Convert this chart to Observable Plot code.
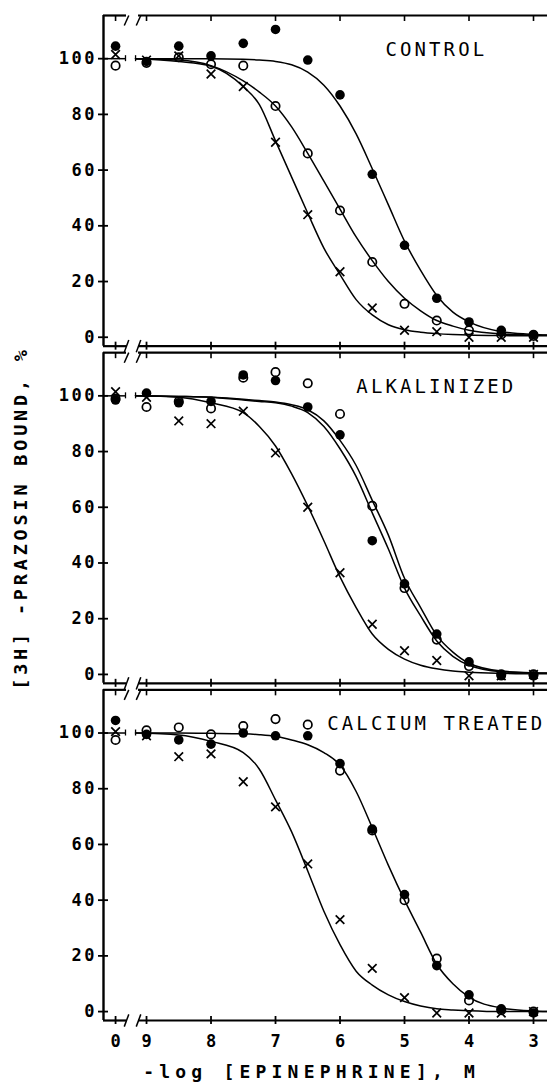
<!DOCTYPE html>
<html>
<head>
<meta charset="utf-8">
<script src="https://cdn.jsdelivr.net/npm/d3@7"></script>
<script src="https://cdn.jsdelivr.net/npm/@observablehq/plot@0.6"></script>
<style>
  html, body { margin: 0; padding: 0; background: #fff; overflow: hidden; }
  #chart svg { display: block; }
  g[font-size="17"] text { letter-spacing: 2.5px; }
  g[font-size="19"] text { letter-spacing: 3.1px; }
  g[font-size="18"] text { letter-spacing: 5.2px; }
  g[font-size="18.5"] text { letter-spacing: 3.8px; }
</style>
</head>
<body>
<div id="chart"></div>
<script>
// ---------- data ----------
const panels = ["CONTROL", "ALKALINIZED", "CALCIUM TREATED"];

// -log[epinephrine]; first entry (9.48) is the "0" (no epinephrine) point left of the axis break
const doseX = [9.48, 9, 8.5, 8, 7.5, 7, 6.5, 6, 5.5, 5, 4.5, 4, 3.5, 3];

const controlFilled = [104.5, 99, 104.5, 101, 105.5, 110.5, 99.5, 87, 58.5, 33, 14, 5.5, 2.5, 1];
const controlOpen   = [97.5, 98.5, 100.5, 98, 97.5, 83, 66, 45.5, 27, 12, 6, 2.5, 1, 0.5];
const controlCross  = [101.5, 99.5, 101, 94.5, 90, 70, 44, 23.5, 10.5, 2.5, 2, 0, 0, 0];

const alkFilled = [98.5, 101, 97.5, 98, 107.5, 105.5, 96, 86, 48, 32.5, 14.5, 4.5, -0.5, -0.5];
const alkOpen   = [99, 96, 98, 95.5, 106.5, 108.5, 104.5, 93.5, 60.5, 31, 12.5, 3, 0, 0];
const alkCross  = [101.5, 99.5, 91, 90, 94.5, 79.5, 60, 36.5, 18, 8.5, 5, -0.5, -0.5, 0];

const calFilled = [104.5, 99.5, 97.5, 96, 100, 99, 99, 89, 65.5, 42, 16.5, 6, 1, -0.5];
const calOpen   = [97.5, 101, 102, 99.5, 102.5, 105, 103, 86.5, 65, 40, 19, 4, 0.5, 0];
const calCross  = [100.5, 99, 91.5, 92.5, 82.5, 73.5, 53, 33, 15.5, 5, -0.5, -0.5, -0.5, 0];

// fitted curves at these x positions
const curveX = [9.17, 8.5, 8, 7.5, 7.25, 7, 6.75, 6.5, 6.25, 6, 5.75, 5.5, 5.25, 5, 4.75, 4.5, 4.25, 4, 3.5, 3, 2.78];
const fitControlFilled = [100, 100, 100, 99.8, 99.5, 99, 97.8, 95.2, 90.5, 83, 73, 60.5, 47.5, 34.5, 24, 15, 9, 5.5, 2, 1, 0.8];
const fitControlOpen   = [100, 99.5, 97.5, 92, 88, 83, 75.5, 66, 56, 46, 36, 27.5, 20, 14, 9.5, 6, 4, 2.5, 1.2, 0.8, 0.7];
const fitControlCross  = [100, 99, 97.3, 90, 83.5, 70.5, 57.5, 44.5, 32, 22.5, 13.5, 8, 4.5, 2.7, 1.8, 1.3, 1, 0.8, 0.6, 0.5, 0.5];
const fitAlkFilled = [100, 99.8, 99.5, 98.5, 98, 97.5, 96.3, 94, 89, 81, 71, 58, 45, 31, 21, 12, 6.5, 3.3, 1, 0.5, 0.4];
const fitAlkOpen   = [100, 99.8, 99.5, 98.8, 98.3, 97.8, 96.8, 95, 91, 84, 75, 62.5, 50, 34.5, 24, 14, 8, 4, 1.2, 0.6, 0.5];
const fitAlkCross  = [100, 99.5, 97.5, 94, 89, 82, 72, 60.5, 48, 35, 24, 14.5, 9, 5.5, 3.3, 2, 1.2, 0.8, 0.4, 0.2, 0.2];
const fitCalcium      = [100, 100, 99.9, 99.7, 99.4, 98.8, 97.5, 95.8, 93, 88.5, 79, 66, 52.5, 40, 28.5, 17, 10, 5.2, 1.3, 0.2, 0];
const fitCalciumCross = [100, 99.3, 97, 93, 87, 76, 64.5, 50.5, 36, 24, 14.5, 9.5, 6, 3.6, 2, 1, 0.6, 0.3, 0, 0, 0];

const xTickValues = [9.48, 9, 8, 7, 6, 5, 4, 3];
const xTickLabels = ["0", "9", "8", "7", "6", "5", "4", "3"];
const yTickValues = [0, 20, 40, 60, 80, 100];
const xTitle = "-log [EPINEPHRINE], M";
const yTitle = "[3H] -PRAZOSIN BOUND, %";

// ---------- scale configuration ----------
const xDomain = [9.667, 2.783];
const yDomain = [-3.2, 115.5];
const breakLeft = 9.31, breakRight = 9.124;   // axis break between "0" and 9
const stubEnd = 9.326, curveStart = 9.17;      // break in the 100% line

// ---------- tables ----------
const dotSeries = [
  [panels[0], "filled", controlFilled], [panels[0], "open", controlOpen], [panels[0], "cross", controlCross],
  [panels[1], "filled", alkFilled], [panels[1], "open", alkOpen], [panels[1], "cross", alkCross],
  [panels[2], "filled", calFilled], [panels[2], "open", calOpen], [panels[2], "cross", calCross]
];
const dots = dotSeries.flatMap(([panel, kind, vals]) => vals.map((v, i) => ({panel, kind, x: doseX[i], y: v})));

const fitSeries = [
  [panels[0], "cf", fitControlFilled], [panels[0], "co", fitControlOpen], [panels[0], "cx", fitControlCross],
  [panels[1], "af", fitAlkFilled], [panels[1], "ao", fitAlkOpen], [panels[1], "ax", fitAlkCross],
  [panels[2], "kf", fitCalcium], [panels[2], "kx", fitCalciumCross]
];
const fits = fitSeries.flatMap(([panel, id, vals]) => vals.map((v, i) => ({panel, id, x: curveX[i], y: v})));

const axisSegments = [[xDomain[0], breakLeft], [breakRight, xDomain[1]]];
const breaks = [breakLeft, breakRight];
const yMin = yDomain[0], yMax = yDomain[1];
const mono = "'DejaVu Sans Mono', 'Liberation Mono', monospace";

const chart = Plot.plot({
  width: 547,
  height: 1083,
  marginLeft: 103,
  marginRight: 0,
  marginTop: 15,
  marginBottom: 63,
  x: {domain: xDomain, axis: null},
  y: {domain: yDomain, axis: null},
  fy: {domain: panels, axis: null, paddingInner: 0.0193, paddingOuter: 0, round: false},
  style: {fontFamily: mono, background: "white", color: "black"},
  marks: [
    // frame: bottom axis and top line, both broken between "0" and 9
    Plot.ruleY(axisSegments, {x1: d => d[0], x2: d => d[1], y: () => yMin, strokeWidth: 2.2}),
    Plot.ruleY(axisSegments, {x1: d => d[0], x2: d => d[1], y: () => yMax, strokeWidth: 2.2}),
    Plot.link(breaks, {x1: d => d + 0.035, x2: d => d - 0.035, y1: () => yMin - 2.2, y2: () => yMin + 2.2, strokeWidth: 1.5}),
    Plot.link(breaks, {x1: d => d + 0.035, x2: d => d - 0.035, y1: () => yMax - 3.6, y2: () => yMax, strokeWidth: 1.5}),
    Plot.ruleX([xDomain[0]], {x: d => d, y1: () => yMin, y2: () => yMax, strokeWidth: 2.4}),
    // ticks
    Plot.ruleY(yTickValues, {y: d => d, x1: () => xDomain[0], x2: () => xDomain[0], insetLeft: -5, insetRight: -5, strokeWidth: 1.8}),
    Plot.ruleX(xTickValues, {x: d => d, y1: () => yMin, y2: () => yMin, insetTop: -4, insetBottom: -4, strokeWidth: 1.8}),
    Plot.ruleX(xTickValues, {x: d => d, y1: () => yMax, y2: () => yMax, insetTop: 0, insetBottom: -6, strokeWidth: 1.6}),
    // tick labels
    Plot.text(yTickValues, {x: () => xDomain[0], y: d => d, text: d => String(d), textAnchor: "end", dx: -6.5,
      fontSize: 17, fontWeight: "bold"}),
    Plot.text(xTickValues, {fy: () => panels[2], x: d => d, y: () => yMin, dy: 21, text: (d, i) => xTickLabels[i],
      fontSize: 17, fontWeight: "bold", dx: 1.3}),
    // titles
    Plot.text([xTitle], {fy: () => panels[2], x: () => 6.48, y: () => yMin, dy: 52, text: d => d,
      fontSize: 18, fontWeight: "bold", dx: 2.6}),
    Plot.text([yTitle], {fy: () => panels[1], frameAnchor: "left", textAnchor: "middle", dx: -82, rotate: -90, text: d => d,
      fontSize: 18.5, fontWeight: "bold"}),
    Plot.text(panels, {fy: d => d, x: () => 4.53, y: () => 103.2, text: d => d, fontSize: 19, dx: 1.5}),
    // 100% line break at the left
    Plot.ruleY([100], {y: d => d, x1: () => xDomain[0], x2: () => stubEnd, strokeWidth: 1.5}),
    Plot.ruleX([stubEnd, curveStart], {x: d => d, y1: () => 100, y2: () => 100, insetTop: -3, insetBottom: -3, strokeWidth: 1.3}),
    // fitted curves
    Plot.line(fits, {x: "x", y: "y", z: "id", fy: "panel", curve: "monotone-x", stroke: "black", strokeWidth: 1.5}),
    // data points
    Plot.dot(dots.filter(d => d.kind === "filled"), {x: "x", y: "y", fy: "panel", r: 4.8, fill: "black"}),
    Plot.dot(dots.filter(d => d.kind === "open"), {x: "x", y: "y", fy: "panel", r: 4.2, fill: "none", stroke: "black", strokeWidth: 1.7}),
    Plot.dot(dots.filter(d => d.kind === "cross"), {x: "x", y: "y", fy: "panel", r: 4, symbol: "times", stroke: "black", strokeWidth: 1.7})
  ]
});
document.getElementById("chart").append(chart);
</script>
</body>
</html>
